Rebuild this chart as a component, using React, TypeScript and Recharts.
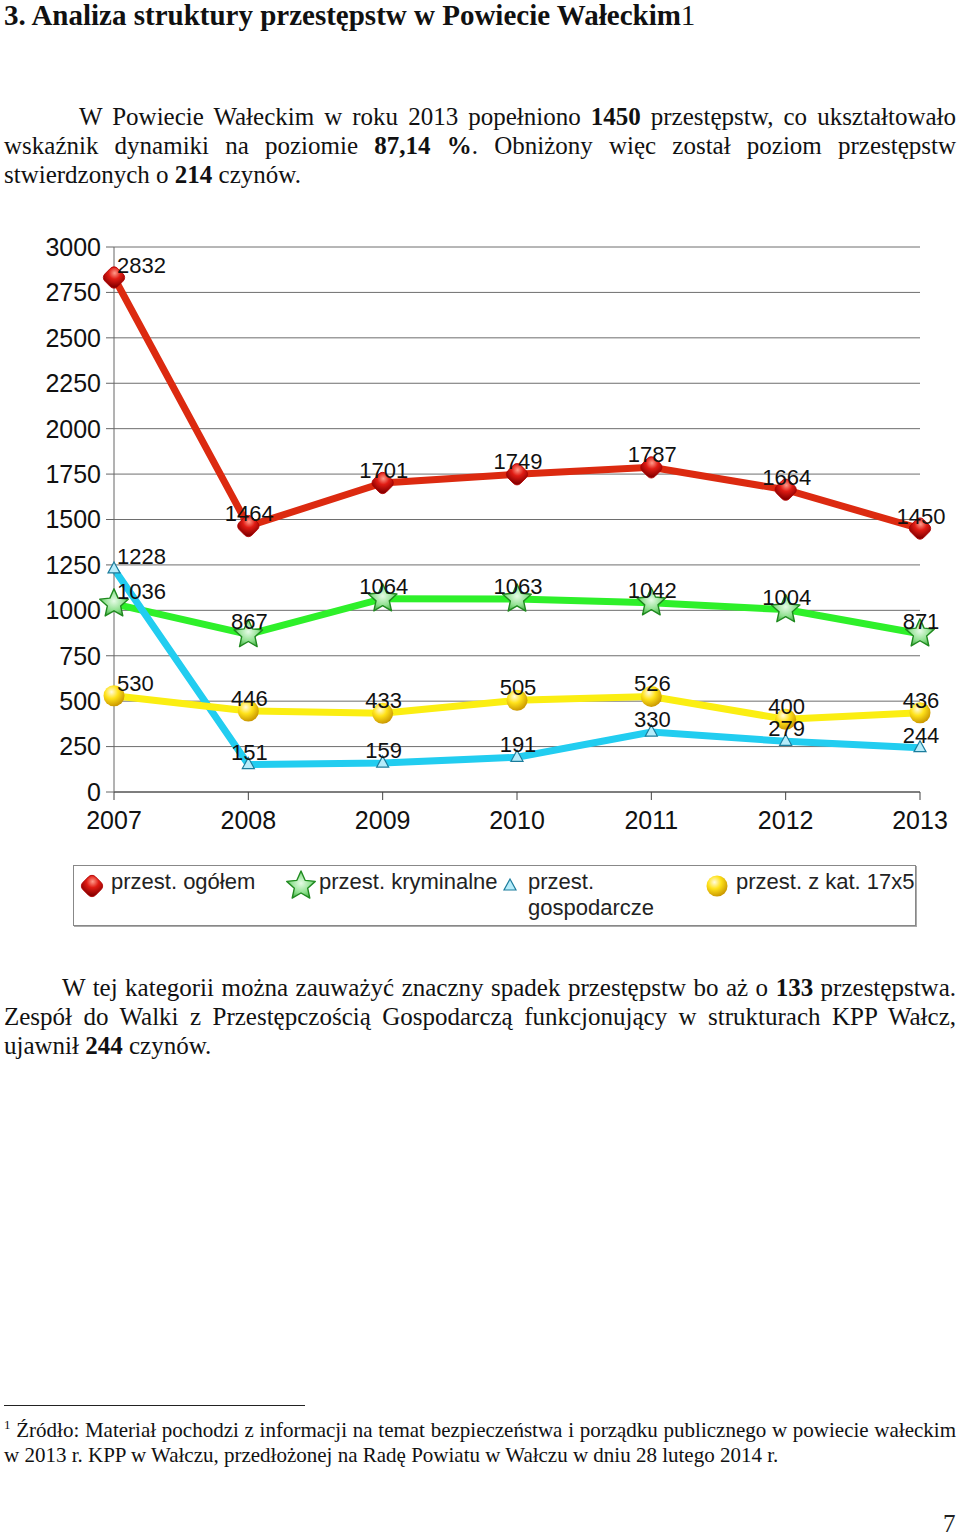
import React from 'react';
import { LineChart, Line, XAxis, YAxis, CartesianGrid, LabelList } from 'recharts';

const years = ['2007', '2008', '2009', '2010', '2011', '2012', '2013'];
const ogolem = [2832, 1464, 1701, 1749, 1787, 1664, 1450];
const kryminalne = [1036, 867, 1064, 1063, 1042, 1004, 871];
const gospodarcze = [1228, 151, 159, 191, 330, 279, 244];
const kat17x5 = [530, 446, 433, 505, 526, 400, 436];
const yTicks = [0, 250, 500, 750, 1000, 1250, 1500, 1750, 2000, 2250, 2500, 2750, 3000];

const chartData = years.map((year, i) => ({
  year,
  ogolem: ogolem[i],
  kryminalne: kryminalne[i],
  gospodarcze: gospodarcze[i],
  kat17x5: kat17x5[i],
}));

const serif = '"Liberation Serif", "Times New Roman", serif';
const sans = '"Liberation Sans", Arial, sans-serif';

const starPoints = (cx: number, cy: number, ro: number, ri: number) => {
  const pts: string[] = [];
  for (let i = 0; i < 10; i++) {
    const r = i % 2 === 0 ? ro : ri;
    const a = -Math.PI / 2 + (i * Math.PI) / 5;
    pts.push(`${cx + r * Math.cos(a)},${cy + r * Math.sin(a)}`);
  }
  return pts.join(' ');
};

const Gradients = ({ p }: { p: string }) => (
  <defs>
    <radialGradient id={`${p}red`} cx="35%" cy="30%" r="75%">
      <stop offset="0%" stopColor="#ff9a8a" />
      <stop offset="45%" stopColor="#e01c14" />
      <stop offset="100%" stopColor="#8a0000" />
    </radialGradient>
    <radialGradient id={`${p}green`} cx="50%" cy="45%" r="60%">
      <stop offset="0%" stopColor="#e6fbe6" />
      <stop offset="60%" stopColor="#8ee08e" />
      <stop offset="100%" stopColor="#3aa83a" />
    </radialGradient>
    <radialGradient id={`${p}yellow`} cx="38%" cy="32%" r="70%">
      <stop offset="0%" stopColor="#fffbe0" />
      <stop offset="45%" stopColor="#ffe21a" />
      <stop offset="100%" stopColor="#c99600" />
    </radialGradient>
  </defs>
);

const RedMark = ({ cx, cy, p = 'c' }: any) => (
  <rect x={cx - 9} y={cy - 9} width={18} height={18} rx={5}
    transform={`rotate(45 ${cx} ${cy})`} fill={`url(#${p}red)`} stroke="#b00000" strokeWidth={0.8} />
);
const GreenMark = ({ cx, cy, p = 'c' }: any) => (
  <polygon points={starPoints(cx, cy, 15, 7)} fill={`url(#${p}green)`} stroke="#1f8a1f" strokeWidth={1.4} strokeLinejoin="round" />
);
const CyanMark = ({ cx, cy }: any) => (
  <polygon points={`${cx},${cy - 7} ${cx + 6},${cy + 4} ${cx - 6},${cy + 4}`} fill="#b6ecfa" stroke="#1b7c9c" strokeWidth={1.2} />
);
const YellowMark = ({ cx, cy, p = 'c' }: any) => (
  <circle cx={cx} cy={cy} r={10.5} fill={`url(#${p}yellow)`} />
);

const dotOf = (Mark: any) => (props: any) => <Mark key={`d${props.index}`} cx={props.cx} cy={props.cy} />;

const renderLabel = (props: any) => {
  const { x, y, value, index } = props;
  const first = index === 0;
  return (
    <text x={first ? x + 3 : x + 1} y={y - 5} textAnchor={first ? 'start' : 'middle'}
      fontFamily={sans} fontSize={22} fill="#111">
      {value}
    </text>
  );
};

const LegendIcon = ({ Mark, id }: any) => (
  <svg width={32} height={32} style={{ position: 'absolute', left: -16, top: -16 }}>
    <Gradients p={id} />
    <Mark cx={16} cy={16} p={id} />
  </svg>
);

const legendItems = [
  { label: 'przest. ogółem', Mark: RedMark, ix: 18, tx: 37 },
  { label: 'przest. kryminalne', Mark: GreenMark, ix: 227, tx: 245 },
  { label: 'przest.\ngospodarcze', Mark: CyanMark, ix: 436, tx: 454 },
  { label: 'przest. z kat. 17x5', Mark: YellowMark, ix: 643, tx: 662 },
];

const line = (top: number, left: number, width: number, justify: boolean, indent: number, children: React.ReactNode, size = 25) => (
  <div style={{
    position: 'absolute', top, left, width, fontSize: size, lineHeight: '29px', whiteSpace: 'nowrap',
    textAlign: justify ? 'justify' : 'left', textAlignLast: justify ? 'justify' : 'auto', paddingLeft: indent,
    boxSizing: 'border-box', color: '#111',
  } as React.CSSProperties}>{children}</div>
);

export default function App() {
  return (
    <div style={{ position: 'relative', width: 960, height: 1537, fontFamily: serif, background: '#fff', overflow: 'hidden' }}>
      <style>{'body{margin:0}'}</style>
      <div style={{ position: 'absolute', left: 4, top: 0, fontSize: 29, lineHeight: '31px', whiteSpace: 'nowrap', color: '#111' }}>
        <b>3. Analiza struktury przestępstw w Powiecie Wałeckim</b>
        <span>1</span>
      </div>

      {line(102, 4, 952, true, 75, <>W Powiecie Wałeckim w roku 2013 popełniono <b>1450</b> przestępstw, co ukształtowało</>)}
      {line(131, 4, 952, true, 0, <>wskaźnik dynamiki na poziomie <b>87,14 %</b>. Obniżony więc został poziom przestępstw</>)}
      {line(160, 4, 952, false, 0, <>stwierdzonych o <b>214</b> czynów.</>)}

      <div style={{ position: 'absolute', left: 0, top: 220 }}>
        <LineChart width={960} height={640} data={chartData} margin={{ top: 27, right: 40, left: 0, bottom: 28 }}>
          <Gradients p="c" />
          <CartesianGrid vertical={false} stroke="#6e6e6e" strokeWidth={1} />
          <XAxis dataKey="year" stroke="#444" tickSize={8} tickMargin={11} height={40}
            tick={{ fill: '#111', fontSize: 25, fontFamily: sans }} />
          <YAxis domain={[0, 3000]} ticks={yTicks} width={114} stroke="#666" tickSize={8} tickMargin={5}
            interval={0} tick={{ fill: '#111', fontSize: 25, fontFamily: sans }} />
          <Line dataKey="ogolem" stroke="#dc2a10" strokeWidth={7} dot={dotOf(RedMark)} activeDot={false} isAnimationActive={false}>
            <LabelList dataKey="ogolem" content={renderLabel} />
          </Line>
          <Line dataKey="kryminalne" stroke="#2ef02a" strokeWidth={7} dot={dotOf(GreenMark)} activeDot={false} isAnimationActive={false}>
            <LabelList dataKey="kryminalne" content={renderLabel} />
          </Line>
          <Line dataKey="gospodarcze" stroke="#22cdf0" strokeWidth={7} dot={dotOf(CyanMark)} activeDot={false} isAnimationActive={false}>
            <LabelList dataKey="gospodarcze" content={renderLabel} />
          </Line>
          <Line dataKey="kat17x5" stroke="#fbee12" strokeWidth={7} dot={dotOf(YellowMark)} activeDot={false} isAnimationActive={false}>
            <LabelList dataKey="kat17x5" content={renderLabel} />
          </Line>
        </LineChart>
      </div>

      <div style={{ position: 'absolute', left: 73, top: 865, width: 843, height: 61, border: '1px solid #888',
        boxShadow: '1px 1px 0 #aaa', boxSizing: 'border-box', fontFamily: sans, fontSize: 22, color: '#222' }}>
        {legendItems.map((it, i) => (
          <div key={i}>
            <div style={{ position: 'absolute', left: it.ix, top: 20 }}>
              <LegendIcon Mark={it.Mark} id={`l${i}`} />
            </div>
            <div style={{ position: 'absolute', left: it.tx, top: 3, lineHeight: '26px', whiteSpace: 'pre' }}>{it.label}</div>
          </div>
        ))}
      </div>

      {line(973, 4, 952, true, 58, <>W tej kategorii można zauważyć znaczny spadek przestępstw bo aż o <b>133</b> przestępstwa.</>)}
      {line(1002, 4, 952, true, 0, <>Zespół do Walki z Przestępczością Gospodarczą funkcjonujący w strukturach KPP Wałcz,</>)}
      {line(1031, 4, 952, false, 0, <>ujawnił <b>244</b> czynów.</>)}

      <div style={{ position: 'absolute', left: 4, top: 1405, width: 301, height: 1, background: '#222' }} />
      <div style={{ position: 'absolute', left: 4, top: 1418, width: 952, height: 24, fontSize: 21, lineHeight: '24px', color: '#111',
        whiteSpace: 'nowrap', textAlign: 'justify', textAlignLast: 'justify' } as React.CSSProperties}>
        <span style={{ fontSize: 13, position: 'relative', top: -8, lineHeight: 0 }}>1</span> Źródło: Materiał pochodzi z informacji na temat bezpieczeństwa i porządku publicznego w  powiecie wałeckim
      </div>
      <div style={{ position: 'absolute', left: 4, top: 1443, fontSize: 21, lineHeight: '24px', color: '#111', whiteSpace: 'nowrap' }}>
        w 2013 r. KPP w Wałczu, przedłożonej na Radę Powiatu w Wałczu w dniu 28 lutego 2014 r.
      </div>

      <div style={{ position: 'absolute', left: 943, top: 1510, fontSize: 25, lineHeight: '27px', color: '#222' }}>7</div>
    </div>
  );
}
